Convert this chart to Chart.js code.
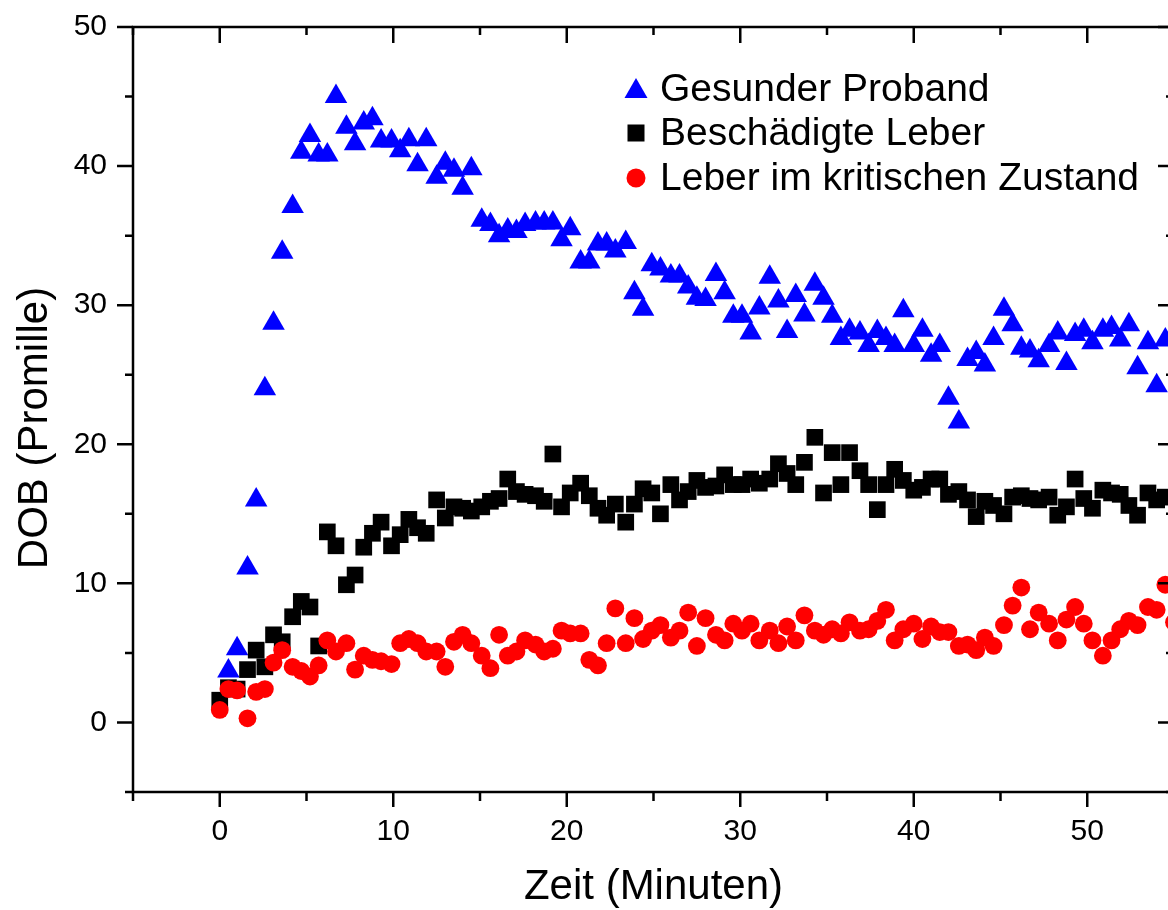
<!DOCTYPE html>
<html>
<head>
<meta charset="utf-8">
<script src="https://cdn.jsdelivr.net/npm/chart.js@4.4.1/dist/chart.umd.min.js"></script>
<style>
    html, body { margin: 0; padding: 0; background: #fff; overflow: hidden; }
    #wrap { width: 1188px; height: 910px; }
</style>
</head>
<body>
<div id="wrap"><canvas id="dobChart" width="1188" height="910"></canvas></div>
<script>
// Messzeitpunkte (Minuten)
const zeit = [
    0.0, 0.5, 1.0, 1.6, 2.1, 2.6, 3.1, 3.6, 4.2, 4.7,
    5.2, 5.7, 6.2, 6.7, 7.3, 7.8, 8.3, 8.8, 9.3, 9.9,
    10.4, 10.9, 11.4, 11.9, 12.5, 13.0, 13.5, 14.0, 14.5, 15.1,
    15.6, 16.1, 16.6, 17.1, 17.6, 18.2, 18.7, 19.2, 19.7, 20.2,
    20.8, 21.3, 21.8, 22.3, 22.8, 23.4, 23.9, 24.4, 24.9, 25.4,
    26.0, 26.5, 27.0, 27.5, 28.0, 28.6, 29.1, 29.6, 30.1, 30.6,
    31.1, 31.7, 32.2, 32.7, 33.2, 33.7, 34.3, 34.8, 35.3, 35.8,
    36.3, 36.9, 37.4, 37.9, 38.4, 38.9, 39.4, 40.0, 40.5, 41.0,
    41.5, 42.0, 42.6, 43.1, 43.6, 44.1, 44.6, 45.2, 45.7, 46.2,
    46.7, 47.2, 47.8, 48.3, 48.8, 49.3, 49.8, 50.3, 50.9, 51.4,
    51.9, 52.4, 52.9, 53.5, 54.0, 54.5, 55.0
];

// DOB (Promille)
const gesund = [
    null, 3.7, 5.3, 11.1, 16.0, 24.0, 28.7, 33.8, 37.1, 41.0,
    42.2, 40.8, 40.8, 45.0, 42.8, 41.6, 43.1, 43.4, 41.8, 41.8,
    41.1, 41.9, 40.1, 41.9, 39.2, 40.2, 39.7, 38.4, 39.8, 36.1,
    35.8, 35.0, 35.4, 35.3, 35.8, 35.9, 35.9, 35.9, 34.7, 35.5,
    33.1, 33.1, 34.4, 34.4, 33.9, 34.5, 30.9, 29.7, 32.9, 32.6,
    32.1, 32.1, 31.3, 30.5, 30.4, 32.2, 30.9, 29.2, 29.2, 28.0,
    29.8, 32.0, 30.3, 28.1, 30.7, 29.3, 31.5, 30.5, 29.2, 27.6,
    28.2, 28.0, 27.1, 28.1, 27.6, 27.1, 29.6, 27.1, 28.2, 26.4,
    27.1, 23.3, 21.6, 26.1, 26.6, 25.7, 27.6, 29.7, 28.6, 26.9,
    26.7, 26.0, 27.1, 28.0, 25.8, 27.9, 28.2, 27.3, 28.2, 28.4,
    27.5, 28.6, 25.5, 27.3, 24.2, 27.5, null
];
const beschaedigt = [
    1.6, 2.5, 2.4, 3.8, 5.2, 4.0, 6.3, 5.8, 7.6, 8.7,
    8.3, 5.5, 13.7, 12.7, 9.9, 10.6, 12.6, 13.6, 14.4, 12.7,
    13.5, 14.6, 14.0, 13.6, 16.0, 14.7, 15.5, 15.4, 15.2, 15.5,
    15.9, 16.1, 17.5, 16.6, 16.4, 16.3, 15.9, 19.3, 15.5, 16.5,
    17.2, 16.3, 15.4, 14.9, 15.7, 14.4, 15.7, 16.8, 16.5, 15.0,
    17.1, 16.0, 16.6, 17.4, 16.9, 17.0, 17.8, 17.1, 17.1, 17.5,
    17.2, 17.5, 18.6, 17.9, 17.1, 18.7, 20.5, 16.5, 19.4, 17.1,
    19.4, 18.1, 17.1, 15.3, 17.1, 18.2, 17.4, 16.7, 16.9, 17.5,
    17.5, 16.4, 16.6, 16.0, 14.8, 15.9, 15.6, 15.0, 16.2, 16.3,
    16.1, 16.0, 16.2, 14.9, 15.5, 17.5, 16.1, 15.4, 16.7, 16.5,
    16.4, 15.6, 14.9, 16.5, 16.0, 16.2, null
];
const kritisch = [
    0.9, 2.4, 2.3, 0.3, 2.2, 2.4, 4.3, 5.2, 4.0, 3.7,
    3.3, 4.1, 5.9, 5.1, 5.7, 3.8, 4.8, 4.5, 4.4, 4.2,
    5.7, 6.0, 5.7, 5.1, 5.1, 4.0, 5.8, 6.3, 5.7, 4.8,
    3.9, 6.3, 4.8, 5.1, 5.9, 5.6, 5.1, 5.3, 6.6, 6.4,
    6.4, 4.5, 4.1, 5.7, 8.2, 5.7, 7.5, 6.0, 6.6, 7.0,
    6.1, 6.6, 7.9, 5.5, 7.5, 6.3, 5.9, 7.1, 6.6, 7.1,
    5.9, 6.6, 5.7, 6.9, 5.9, 7.7, 6.6, 6.3, 6.7, 6.4,
    7.2, 6.6, 6.7, 7.3, 8.1, 5.9, 6.7, 7.1, 6.0, 6.9,
    6.5, 6.5, 5.5, 5.6, 5.2, 6.1, 5.5, 7.0, 8.4, 9.7,
    6.7, 7.9, 7.1, 5.9, 7.4, 8.3, 7.1, 5.9, 4.8, 5.9,
    6.7, 7.3, 7.0, 8.3, 8.1, 9.9, 7.2
];

const xTicks = [0, 10, 20, 30, 40, 50];
const yTicks = [0, 10, 20, 30, 40, 50];
const namen = ['Gesunder Proband', 'Beschädigte Leber', 'Leber im kritischen Zustand'];
const farben = ['#0000ff', '#000000', '#ff0000'];

const FONT = "'Liberation Sans', Arial, sans-serif";

function punkte(werte) {
    return zeit.map((t, i) => ({ x: t, y: werte[i] })).filter(p => p.y !== null);
}

// Rahmen, Ticks, Achsentitel und Legende wie im Origin-Plot
const rahmen = {
    id: 'rahmen',
    afterDraw(chart) {
        const { ctx, chartArea: a, scales: { x, y } } = chart;
        ctx.save();
        ctx.strokeStyle = '#000';
        ctx.lineWidth = 2.5;
        ctx.strokeRect(a.left, a.top, a.right - a.left, a.bottom - a.top);

        ctx.beginPath();
        for (let v = -5; v <= 55; v += 5) {
            const px = x.getPixelForValue(v);
            const major = v % 10 === 0;
            ctx.moveTo(px, a.bottom);
            ctx.lineTo(px, a.bottom + (major ? 15 : 9));
            ctx.moveTo(px, a.top);
            ctx.lineTo(px, a.top + (major ? 16 : 8));
        }
        for (let v = -5; v <= 50; v += 5) {
            const py = y.getPixelForValue(v);
            const major = v % 10 === 0;
            ctx.moveTo(a.left, py);
            ctx.lineTo(a.left - (major ? 16 : 8), py);
            ctx.moveTo(a.right, py);
            ctx.lineTo(a.right - (major ? 16 : 8), py);
        }
        ctx.stroke();

        ctx.fillStyle = '#000';
        ctx.font = '42px ' + FONT;
        ctx.textAlign = 'center';
        ctx.textBaseline = 'middle';
        ctx.fillText('Zeit (Minuten)', (a.left + a.right) / 2, 887);
        ctx.save();
        ctx.translate(35, 428);
        ctx.rotate(-Math.PI / 2);
        ctx.fillText('DOB (Promille)', 0, 0);
        ctx.restore();

        // Legende
        const lx = 636, ly = [89, 133, 178];
        ctx.fillStyle = farben[0];
        ctx.beginPath();
        ctx.moveTo(lx, ly[0] - 11);
        ctx.lineTo(lx + 11.5, ly[0] + 9);
        ctx.lineTo(lx - 11.5, ly[0] + 9);
        ctx.closePath();
        ctx.fill();
        ctx.fillStyle = farben[1];
        ctx.fillRect(lx - 8.5, ly[1] - 8.5, 17, 17);
        ctx.fillStyle = farben[2];
        ctx.beginPath();
        ctx.arc(lx, ly[2], 9.5, 0, Math.PI * 2);
        ctx.fill();

        ctx.fillStyle = '#000';
        ctx.font = '39px ' + FONT;
        ctx.textAlign = 'left';
        namen.forEach((n, i) => ctx.fillText(n, 660, ly[i] + 1));
        ctx.restore();
    }
};

new Chart(document.getElementById('dobChart'), {
    type: 'scatter',
    data: {
        datasets: [
            {
                label: namen[0],
                data: punkte(gesund),
                pointStyle: 'triangle',
                pointRadius: 13,
                backgroundColor: farben[0],
                borderWidth: 0,
                order: 3
            },
            {
                label: namen[1],
                data: punkte(beschaedigt),
                pointStyle: 'rect',
                pointRadius: 11.8,
                backgroundColor: farben[1],
                borderWidth: 0,
                order: 2
            },
            {
                label: namen[2],
                data: punkte(kritisch),
                pointStyle: 'circle',
                pointRadius: 8.9,
                backgroundColor: farben[2],
                borderWidth: 0,
                order: 1
            }
        ]
    },
    options: {
        responsive: false,
        animation: false,
        devicePixelRatio: 1,
        layout: { padding: { top: 27, right: 14, left: 0, bottom: 0 } },
        scales: {
            x: {
                type: 'linear',
                min: -5,
                max: 55,
                afterFit: s => {
                    s.height = 118;
                    s.paddingLeft = 0;
                    s.paddingRight = 0;
                },
                afterBuildTicks: s => { s.ticks = xTicks.map(v => ({ value: v })); },
                grid: { display: false, drawTicks: false },
                border: { display: false },
                ticks: { padding: 22, color: '#000', font: { family: FONT, size: 30 } }
            },
            y: {
                type: 'linear',
                min: -5,
                max: 50,
                afterFit: s => {
                    s.width = 133;
                    s.paddingTop = 0;
                    s.paddingBottom = 0;
                },
                afterBuildTicks: s => { s.ticks = yTicks.map(v => ({ value: v })); },
                grid: { display: false, drawTicks: false },
                border: { display: false },
                ticks: { padding: 26, color: '#000', font: { family: FONT, size: 30 } }
            }
        },
        plugins: {
            legend: { display: false },
            tooltip: { enabled: false }
        }
    },
    plugins: [rahmen]
});
</script>
</body>
</html>
